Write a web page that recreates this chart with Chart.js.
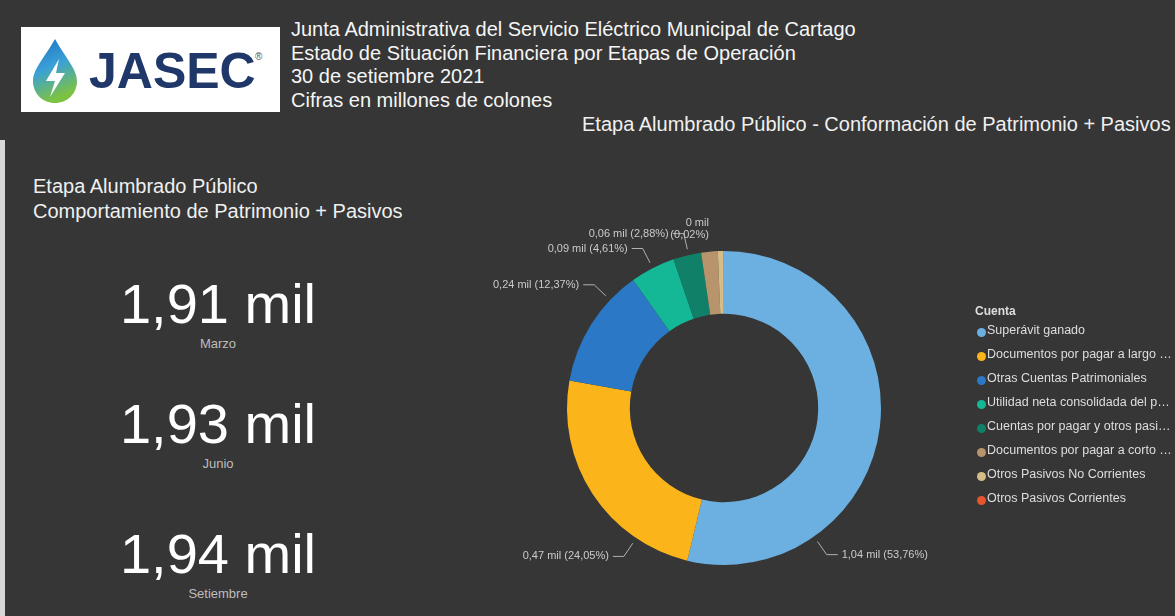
<!DOCTYPE html>
<html lang="es">
<head>
<meta charset="utf-8">
<title>JASEC - Etapa Alumbrado Público</title>
<script src="https://cdn.jsdelivr.net/npm/chart.js@4.4.0/dist/chart.umd.min.js"></script>
<style>
  html, body { margin: 0; padding: 0; }
  body {
    width: 1175px; height: 616px; position: relative; overflow: hidden;
    background: #363636; color: #f2f2f2;
    font-family: 'Liberation Sans', Arial, sans-serif;
  }
  .strip { position: absolute; left: 0; top: 140px; bottom: 0; width: 5px; background: #d8d8d8; }
  .logo { position: absolute; left: 21px; top: 27px; width: 259px; height: 85px; background: #fff; }
  .logo svg { position: absolute; left: 8px; top: 10px; }
  .logo .brand { position: absolute; left: 68px; top: 19px; font: bold 50px 'Liberation Sans', Arial, sans-serif; color: #1f3769; line-height: 50px; }
  .logo .reg { position: absolute; left: 234px; top: 24px; font-size: 10px; color: #555; }
  .head { position: absolute; left: 291px; top: 18px; font-size: 20px; line-height: 23.5px; color: #f5f5f5; white-space: nowrap; }
  .sub { position: absolute; left: 582px; top: 112px; font-size: 20px; line-height: 24px; white-space: nowrap; color: #f0f0f0; }
  .left-title { position: absolute; left: 33px; top: 174px; font-size: 20px; line-height: 25px; color: #f0f0f0; white-space: nowrap; }
  .kpi { position: absolute; left: 68px; width: 300px; text-align: center; }
  .kpi .val { font-size: 56px; line-height: 56px; color: #fff; }
  .kpi .lbl { font-size: 13px; line-height: 14px; color: #bdbdbd; margin-top: 5px; }
  #chartBox { position: absolute; left: 460px; top: 200px; width: 528px; height: 416px; }
  .legend { position: absolute; left: 975px; top: 303px; width: 200px; font-size: 12.5px; color: #dedede; }
  .legend .ttl { font-weight: bold; height: 15px; line-height: 16px; font-size: 12px; }
  .legend .row { height: 24px; line-height: 20px; display: flex; align-items: center; white-space: nowrap; }
  .legend .dot { width: 9px; height: 9px; border-radius: 50%; margin: 4px 1px 0 2px; flex: none; }
  .legend .txt { overflow: hidden; text-overflow: ellipsis; width: 186px; }
</style>
</head>
<body>
<div class="strip"></div>

<div class="logo">
  <svg width="56" height="68" viewBox="0 0 56 68">
    <defs>
      <linearGradient id="dropGrad" x1="0" y1="0" x2="0.3" y2="1">
        <stop offset="0" stop-color="#1f6fc0"/>
        <stop offset="0.5" stop-color="#3aa0d8"/>
        <stop offset="1" stop-color="#7cc242"/>
      </linearGradient>
    </defs>
    <path d="M26 2 C 16 20, 4 32, 4 44 C 4 57, 14 66, 26 66 C 38 66, 48 57, 48 44 C 48 32, 36 20, 26 2 Z" fill="url(#dropGrad)"/>
    <path d="M30 22 L 17 44 L 26 44 L 21 60 L 36 36 L 27 36 Z" fill="#fff"/>
  </svg>
  <div class="brand">JASEC</div>
  <div class="reg">®</div>
</div>

<div class="head">
  Junta Administrativa del Servicio Eléctrico Municipal de Cartago<br>
  Estado de Situación Financiera por Etapas de Operación<br>
  30 de setiembre 2021<br>
  Cifras en millones de colones
</div>

<div class="sub">Etapa Alumbrado Público - Conformación de Patrimonio + Pasivos</div>

<div class="left-title">
  Etapa Alumbrado Público<br>
  Comportamiento de Patrimonio + Pasivos
</div>

<div id="kpis"></div>

<div id="chartBox"><canvas id="chart-patrimonio"></canvas></div>

<div class="legend" id="legend"></div>

<script>
// Conformación de Patrimonio + Pasivos (septiembre 2021)
const categories = [
  'Superávit ganado',
  'Documentos por pagar a largo plazo',
  'Otras Cuentas Patrimoniales',
  'Utilidad neta consolidada del período',
  'Cuentas por pagar y otros pasivos',
  'Documentos por pagar a corto plazo',
  'Otros Pasivos No Corrientes',
  'Otros Pasivos Corrientes',
];
const shares = [53.76, 24.05, 12.37, 4.61, 2.88, 1.70, 0.61, 0.02];   // %
const amounts = [1.04, 0.47, 0.24, 0.09, 0.06, 0.03, 0.01, 0.00];    // miles de millones
const colors = ['#6cb0e1', '#fbb419', '#2a78c6', '#14b896', '#118068', '#b8946c', '#d6bd85', '#e8542c'];

// Comportamiento por trimestre
const kpiMonths = ['Marzo', 'Junio', 'Setiembre'];
const kpiValues = [1.91, 1.93, 1.94];

// where Power BI put the data labels (degrees from top, clockwise); null = hidden
const labelAngle = [145, 214, 313.5, 333, 347, null, null, 359.96];
const labelStack = [false, false, false, false, false, false, false, true];

const fmtMil = v => (v < 0.005 ? '0' : v.toFixed(2).replace('.', ',')) + ' mil';
const fmtPct = v => v.toFixed(2).replace('.', ',') + '%';

// KPI cards
const kpiTops = [276, 396, 526];
document.getElementById('kpis').innerHTML = kpiMonths.map((m, i) => `
  <div class="kpi" style="top:${kpiTops[i]}px">
    <div class="val">${fmtMil(kpiValues[i])}</div>
    <div class="lbl">${m}</div>
  </div>`).join('');

// legend
document.getElementById('legend').innerHTML = '<div class="ttl">Cuenta</div>' +
  categories.map((c, i) => `<div class="row"><span class="dot" style="background:${colors[i]}"></span><span class="txt">${c}</span></div>`).join('');

// labels with leader lines, drawn off the arc elements
const leaderLabels = {
  id: 'leaderLabels',
  afterDatasetsDraw(chart) {
    const { ctx } = chart;
    const arcs = chart.getDatasetMeta(0).data;
    ctx.save();
    ctx.font = "11px 'Liberation Sans', Arial, sans-serif";
    ctx.fillStyle = '#cacaca';
    ctx.strokeStyle = '#b0b0b0';
    ctx.lineWidth = 1;
    ctx.textBaseline = 'middle';
    arcs.forEach((arc, i) => {
      const deg = labelAngle[i];
      if (deg == null) return;
      const { x, y, outerRadius } = arc.getProps(['x', 'y', 'outerRadius'], true);
      const a = (deg - 90) * Math.PI / 180;
      const dx = Math.cos(a), dy = Math.sin(a);
      const side = dx >= 0 ? 1 : -1;
      const ex = x + dx * (outerRadius + 22), ey = y + dy * (outerRadius + 22);
      const hx = ex + side * 11;
      ctx.textAlign = side > 0 ? 'left' : 'right';
      if (labelStack[i]) {
        ctx.fillText(fmtMil(amounts[i]), hx + side * 4, ey - 6);
        ctx.fillText('(' + fmtPct(shares[i]) + ')', hx + side * 4, ey + 6);
        return;
      }
      ctx.beginPath();
      ctx.moveTo(x + dx * (outerRadius + 6), y + dy * (outerRadius + 6));
      ctx.lineTo(ex, ey);
      ctx.lineTo(hx, ey);
      ctx.stroke();
      ctx.fillText(fmtMil(amounts[i]) + ' (' + fmtPct(shares[i]) + ')', hx + side * 4, ey);
    });
    ctx.restore();
  }
};

new Chart(document.getElementById('chart-patrimonio'), {
  type: 'doughnut',
  data: {
    labels: categories,
    datasets: [{ data: shares, backgroundColor: colors, borderWidth: 0 }],
  },
  options: {
    responsive: true, maintainAspectRatio: false, animation: false,
    cutout: '60%',
    layout: { padding: { left: 107, right: 107, top: 51, bottom: 51 } },
    plugins: { legend: { display: false }, tooltip: { enabled: false } },
  },
  plugins: [leaderLabels],
});
</script>
</body>
</html>
